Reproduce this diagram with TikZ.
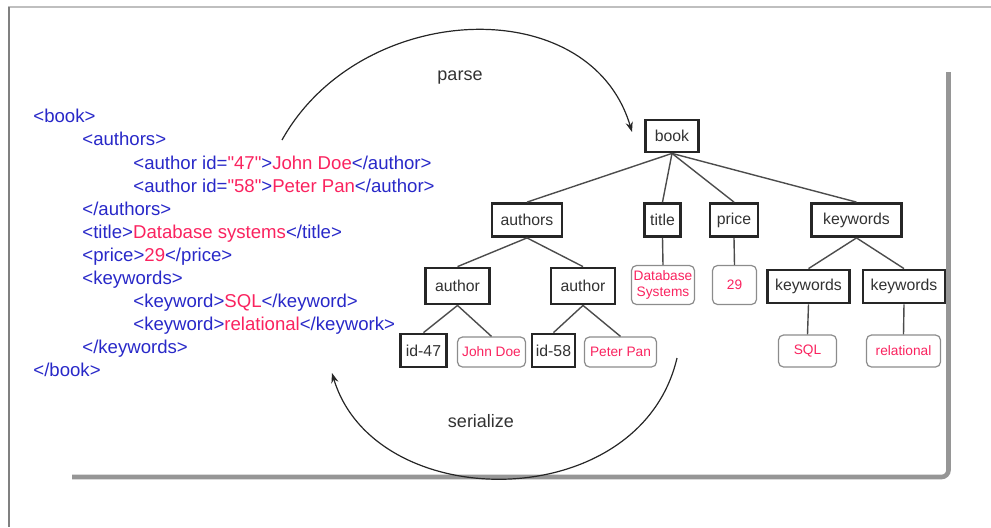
\documentclass[tikz,border=0pt]{standalone}
\usepackage{fontspec}
\setmainfont{Liberation Sans}
\usetikzlibrary{arrows.meta}

\definecolor{tagblue}{RGB}{40,40,200}
\definecolor{valpink}{RGB}{250,35,95}
\definecolor{treetext}{RGB}{50,50,50}
\definecolor{framegray}{RGB}{150,150,150}

\newcommand\xtag[1]{\textcolor{tagblue}{#1}}
\newcommand\xval[1]{\textcolor{valpink}{#1}}
\newcommand\sq{\textquotedbl}

\tikzset{
  xmlline/.style={anchor=base west, inner sep=0pt, font=\fontsize{9.3}{11}\selectfont},
  elem/.style={draw=black!85, line width=1.4pt, fill=white, text=treetext,
    inner sep=0pt, font=\fontsize{7.9}{9}\selectfont},
  leafval/.style={draw=black!45, line width=0.6pt, rounded corners=2.5pt, fill=white,
    text=valpink, inner sep=0pt, align=center,
    font=\fontsize{6.85}{7.6}\selectfont},
  edge/.style={draw=black!70, line width=0.7pt},
  cycle arc/.style={draw=black!85, line width=0.6pt,
    -{Stealth[length=5pt,width=3.6pt]}},
  arclabel/.style={text=treetext, font=\fontsize{9}{10}\selectfont, inner sep=0pt},
  shadowline/.style={draw=framegray, line width=2.3pt, rounded corners=3.5pt}
}

\begin{document}
\begin{tikzpicture}[x=0.5pt,y=-0.5pt]
\useasboundingbox (0,0) rectangle (991,527);

% page frame
\draw[line width=1pt, black!25] (8,7) -- (991,7);
\draw[line width=0.75pt, black!50] (9,7) -- (9,527);

% drop shadow of the panel
\draw[shadowline] (72,477) -- (948.5,477) -- (948.5,72);

% XML source
\node[xmlline] (x1)  at (33,122.8)  {\xtag{<book>}};
\node[xmlline] (x2)  at (82,145.9)  {\xtag{<authors>}};
\node[xmlline] (x3)  at (133,169.0) {\xtag{<author id=}\xval{\sq 47\sq}\xtag{>}\xval{John Doe}\xtag{</author>}};
\node[xmlline] (x4)  at (133,192.1) {\xtag{<author id=}\xval{\sq 58\sq}\xtag{>}\xval{Peter Pan}\xtag{</author>}};
\node[xmlline] (x5)  at (82,215.2)  {\xtag{</authors>}};
\node[xmlline] (x6)  at (82,238.3)  {\xtag{<title>}\xval{Database systems}\xtag{</title>}};
\node[xmlline] (x7)  at (82,261.4)  {\xtag{<price>}\xval{29}\xtag{</price>}};
\node[xmlline] (x8)  at (82,284.5)  {\xtag{<keywords>}};
\node[xmlline] (x9)  at (133,307.6) {\xtag{<keyword>}\xval{SQL}\xtag{</keyword>}};
\node[xmlline] (x10) at (133,330.7) {\xtag{<keyword>}\xval{relational}\xtag{</keywork>}};
\node[xmlline] (x11) at (82,353.8)  {\xtag{</keywords>}};
\node[xmlline] (x12) at (33,376.9)  {\xtag{</book>}};

% tree: element nodes
\node[elem, minimum width=26.5pt, minimum height=16pt] (book) at (672,136) {book};
\node[elem, minimum width=35pt, minimum height=16.5pt] (authors) at (527,220) {authors};
\node[elem, minimum width=18pt, minimum height=16.5pt] (title) at (662.5,220) {title};
\node[elem, minimum width=24pt, minimum height=16.5pt] (price) at (734,220) {price};
\node[elem, minimum width=45pt, minimum height=16.5pt] (keywords) at (856.5,220) {keywords};
\node[elem, minimum width=32pt, minimum height=18pt] (author1) at (457.5,286) {author};
\node[elem, minimum width=32pt, minimum height=18pt] (author2) at (583,286) {author};
\node[elem, minimum width=41pt, minimum height=16.5pt] (kw1) at (808.5,286.5) {keywords};
\node[elem, minimum width=41pt, minimum height=16.5pt] (kw2) at (904,286.5) {keywords};
\node[elem, minimum width=23pt, minimum height=16.5pt] (id47) at (423.5,350.5) {id-47};
\node[elem, minimum width=21.5pt, minimum height=16.5pt] (id58) at (553.5,350.5) {id-58};

% tree: value nodes
\node[leafval, minimum width=31.5pt, minimum height=19.5pt] (dbsys) at (663,285) {Database\\Systems};
\node[leafval, minimum width=22pt, minimum height=19.5pt] (v29) at (734.5,285) {29};
\node[leafval, minimum width=34pt, minimum height=15pt] (johndoe) at (491.5,352) {John Doe};
\node[leafval, minimum width=36pt, minimum height=15pt] (peterpan) at (620.5,352) {Peter Pan};
\node[leafval, minimum width=29pt, minimum height=16pt] (sql) at (807.5,351) {SQL};
\node[leafval, minimum width=37pt, minimum height=16pt] (relational) at (903.5,351) {relational};

% tree: edges
\draw[edge] (book.south) -- (authors.north);
\draw[edge] (book.south) -- (title.north);
\draw[edge] (book.south) -- (price.north);
\draw[edge] (book.south) -- (keywords.north);
\draw[edge] (authors.south) -- (author1.north);
\draw[edge] (authors.south) -- (author2.north);
\draw[edge] (title.south) -- (dbsys.north);
\draw[edge] (price.south) -- (v29.north);
\draw[edge] (keywords.south) -- (kw1.north);
\draw[edge] (keywords.south) -- (kw2.north);
\draw[edge] (author1.south) -- (id47.north);
\draw[edge] (author1.south) -- (johndoe.north);
\draw[edge] (author2.south) -- (id58.north);
\draw[edge] (author2.south) -- (peterpan.north);
\draw[edge] (kw1.south) -- (sql.north);
\draw[edge] (kw2.south) -- (relational.north);

% parse / serialize cycle
\coordinate (parseFrom) at (282,140);
\coordinate (parseTo) at (632,132);
\coordinate (serFrom) at (677,358);
\coordinate (serTo) at (332,373);
\draw[cycle arc] (parseFrom) .. controls (360,0) and (590,-10) .. (parseTo);
\draw[cycle arc] (serFrom) .. controls (640,516) and (375,516) .. (serTo);
\node[arclabel] (parse) at (460,78) {parse};
\node[arclabel] (serialize) at (481,421) {serialize};
\end{tikzpicture}
\end{document}
